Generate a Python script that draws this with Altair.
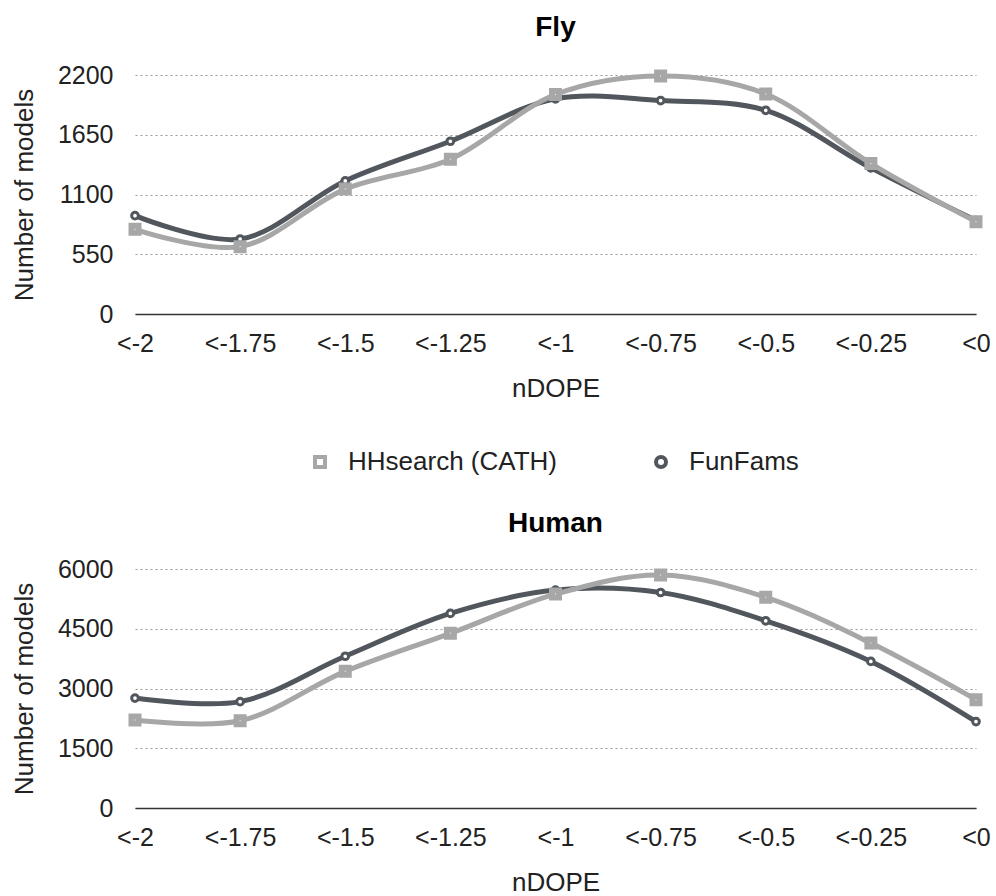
import altair as alt
import pandas as pd

labels = ["<-2", "<-1.75", "<-1.5", "<-1.25", "<-1", "<-0.75", "<-0.5", "<-0.25", "<0"]
series = ["HHsearch (CATH)", "FunFams"]

fly_hh = [780, 620, 1150, 1425, 2020, 2190, 2025, 1385, 850]
fly_ff = [905, 690, 1225, 1590, 1980, 1965, 1875, 1345, 860]
human_hh = [2210, 2190, 3430, 4385, 5370, 5850, 5290, 4140, 2720]
human_ff = [2760, 2670, 3810, 4885, 5470, 5410, 4700, 3680, 2170]

fly_ticks = [0, 550, 1100, 1650, 2200]
human_ticks = [0, 1500, 3000, 4500, 6000]

GREY = "#a6a7a6"
DARK = "#52575d"
FONT = "Liberation Sans"
TXT = "#222222"
FS = 25


def panel(title, hh, ff, ticks, show_legend):
    df = pd.DataFrame({
        "bin": labels * 2,
        "series": [series[1]] * len(labels) + [series[0]] * len(labels),
        "value": ff + hh,
    })
    if show_legend:
        leg = alt.Legend(
            title=None, orient="none", legendX=172, legendY=374,
            direction="horizontal", columnPadding=91,
            symbolSize=100, symbolStrokeWidth=4,
            labelFontSize=26, labelFont=FONT, labelColor=TXT, labelOffset=15,
            labelLimit=400, symbolOpacity=1,
        )
    else:
        leg = None
    x = alt.X("bin:O", sort=labels, scale=alt.Scale(type="point", padding=0),
              axis=alt.Axis(title="nDOPE", labelAngle=0, ticks=False, grid=False,
                            domainColor="#333333", domainWidth=1.5,
                            labelPadding=17, titlePadding=19))
    y = alt.Y("value:Q", scale=alt.Scale(domain=[0, ticks[-1]], nice=False),
              axis=alt.Axis(title="Number of models", values=ticks, ticks=False,
                            format="d", domain=False, gridDash=[2, 3],
                            gridColor="#999999", labelPadding=22, titlePadding=20))
    color = alt.Color("series:N", scale=alt.Scale(domain=series, range=[GREY, DARK]),
                      legend=leg)
    shape = alt.Shape("series:N", scale=alt.Scale(domain=series, range=["square", "circle"]),
                      legend=leg)
    base = alt.Chart(df).encode(x=x, y=y, color=color)
    line = base.mark_line(interpolate="catmull-rom", strokeWidth=5)
    pts_ff = base.transform_filter(alt.datum.series == series[1]).mark_point(
        filled=False, fill="white", size=45, strokeWidth=3, opacity=1
    ).encode(shape=shape)
    pts_hh = base.transform_filter(alt.datum.series == series[0]).mark_point(
        filled=False, fill="white", size=49, strokeWidth=6, opacity=1
    ).encode(shape=shape)
    return alt.layer(line, pts_ff, pts_hh).properties(
        width=841, height=239,
        title=alt.TitleParams(title, fontSize=28, font=FONT, fontWeight="bold",
                              color="#000000", offset=19, anchor="middle"),
    )


top = panel("Fly", fly_hh, fly_ff, fly_ticks, True)
bottom = panel("Human", human_hh, human_ff, human_ticks, False)

chart = alt.vconcat(top, bottom, spacing=109).resolve_scale(
    y="independent"
).properties(
    padding={"left": 11, "top": 13, "right": 2, "bottom": 0},
    background="white",
).configure_view(stroke=None).configure_axis(
    labelFont=FONT, titleFont=FONT, labelFontSize=FS, titleFontSize=26,
    labelColor=TXT, titleColor=TXT, titleFontWeight="normal",
)

chart.save("out.html", embed_options={"renderer": "svg", "actions": False})
